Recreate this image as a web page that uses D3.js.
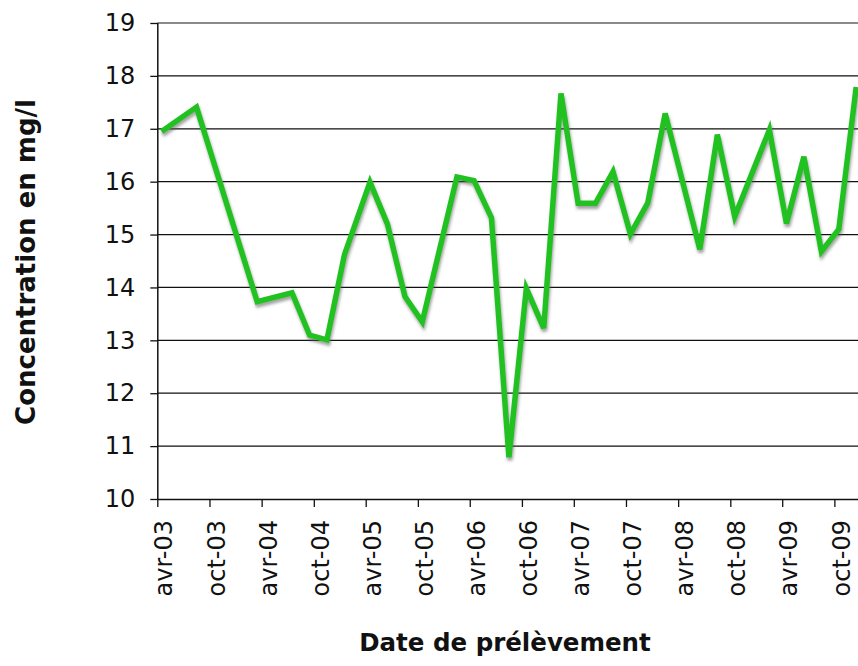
<!DOCTYPE html>
<html>
<head>
<meta charset="utf-8">
<script src="https://cdn.jsdelivr.net/npm/d3@7"></script>
<style>
  html, body { margin: 0; padding: 0; background: #fff; }
  svg { display: block; font-family: "DejaVu Sans", Verdana, sans-serif; }
</style>
</head>
<body>
<svg id="chart" width="858" height="666"></svg>
<script>
// Sampling months (YYYY-MM) and measured concentrations (mg/l)
const sampleMonths = ["2003-04","2003-08","2004-03","2004-07","2004-09","2004-11",
  "2005-01","2005-04","2005-06","2005-08","2005-10","2006-02","2006-04","2006-06",
  "2006-08","2006-10","2006-12","2007-02","2007-04","2007-06","2007-08","2007-10",
  "2007-12","2008-02","2008-06","2008-08","2008-10","2009-02","2009-04","2009-06",
  "2009-08","2009-10","2009-12"];
const concentrations = [16.95, 17.41, 13.73, 13.90, 13.10, 13.01,
  14.62, 15.99, 15.20, 13.83, 13.35, 16.09, 16.02, 15.32,
  10.79, 13.98, 13.23, 17.67, 15.59, 15.59, 16.19, 15.01,
  15.60, 17.29, 14.72, 16.89, 15.34, 16.98, 15.21, 16.47,
  14.68, 15.10, 17.79];

// Half-yearly tick labels along the date axis
const tickLabels = ["avr-03","oct-03","avr-04","oct-04","avr-05","oct-05","avr-06",
  "oct-06","avr-07","oct-07","avr-08","oct-08","avr-09","oct-09"];
const yTicks = [10, 11, 12, 13, 14, 15, 16, 17, 18, 19];

const svg = d3.select("#chart");
const parseMonth = d3.timeParse("%Y-%m");

const plotLeft = 157.3, plotRight = 860.6, plotTop = 23, plotBottom = 499;
const axisStart = parseMonth("2003-04"), axisEnd = parseMonth("2010-01");

const x = d3.scaleTime().domain([axisStart, axisEnd]).range([plotLeft, plotRight]);
const y = d3.scaleLinear().domain([10, 19]).range([plotBottom, plotTop]);

// each value sits at the middle of its month slot
const midMonth = d => {
  const start = parseMonth(d);
  const end = d3.timeMonth.offset(start, 1);
  return new Date((start.getTime() + end.getTime()) / 2);
};
const points = sampleMonths.map((m, i) => ({ date: midMonth(m), value: concentrations[i] }));

// horizontal gridlines
svg.append("g")
  .selectAll("line")
  .data(yTicks.filter(v => v > 10))
  .join("line")
  .attr("x1", plotLeft).attr("x2", 858)
  .attr("y1", d => y(d)).attr("y2", d => y(d))
  .attr("stroke", d => d === 19 ? "#8a8a8a" : "#111")
  .attr("stroke-width", d => d === 19 ? 2 : 1.2);

// x axis: every six months from April 2003
const tickDates = d3.timeMonth.range(axisStart, parseMonth("2009-11"), 6);
const xAxis = d3.axisBottom(x)
  .tickValues(tickDates)
  .tickSize(8)
  .tickFormat((d, i) => tickLabels[i]);

const gx = svg.append("g")
  .attr("transform", `translate(0,${plotBottom})`)
  .call(xAxis);
gx.select(".domain").attr("stroke", "#111").attr("stroke-width", 1.5).attr("d", `M${plotLeft},0.5H858`);
gx.selectAll(".tick line").attr("stroke", "#111").attr("stroke-width", 1.3);
gx.selectAll(".tick text")
  .attr("transform", "rotate(-90)")
  .attr("x", -21)
  .attr("y", 6)
  .attr("dy", "0.36em")
  .attr("text-anchor", "end")
  .attr("fill", "#111")
  .attr("font-size", 24)
  .attr("font-family", "DejaVu Sans, Verdana, sans-serif");

// y axis
const yAxis = d3.axisLeft(y).tickValues(yTicks).tickSize(7).tickPadding(15);
const gy = svg.append("g")
  .attr("transform", `translate(${plotLeft},0)`)
  .call(yAxis);
gy.select(".domain").attr("stroke", "#111").attr("stroke-width", 1.5).attr("d", `M0.5,${plotTop}V${plotBottom}`);
gy.selectAll(".tick line").attr("stroke", "#111").attr("stroke-width", 1.3);
gy.selectAll(".tick text")
  .attr("fill", "#111")
  .attr("font-size", 24)
  .attr("font-family", "DejaVu Sans, Verdana, sans-serif");

// soft shadow under the series line
const defs = svg.append("defs");
const filter = defs.append("filter").attr("id", "lineShadow")
  .attr("x", "-5%").attr("y", "-5%").attr("width", "110%").attr("height", "110%");
filter.append("feDropShadow")
  .attr("dx", 1).attr("dy", 3).attr("stdDeviation", 1.4)
  .attr("flood-color", "#555").attr("flood-opacity", 0.55);

const line = d3.line().x(d => x(d.date)).y(d => y(d.value));

svg.append("path")
  .datum(points)
  .attr("d", line)
  .attr("fill", "none")
  .attr("stroke", "#22c122")
  .attr("stroke-width", 5.5)
  .attr("stroke-linejoin", "miter")
  .attr("filter", "url(#lineShadow)");

// axis titles
svg.append("text")
  .attr("x", 505).attr("y", 651)
  .attr("text-anchor", "middle")
  .attr("font-size", 24.5).attr("font-weight", "bold")
  .attr("fill", "#111")
  .text("Date de prélèvement");

svg.append("text")
  .attr("transform", "translate(35,262) rotate(-90)")
  .attr("text-anchor", "middle")
  .attr("font-size", 26).attr("font-weight", "bold")
  .attr("fill", "#111")
  .text("Concentration en mg/l");
</script>
</body>
</html>
